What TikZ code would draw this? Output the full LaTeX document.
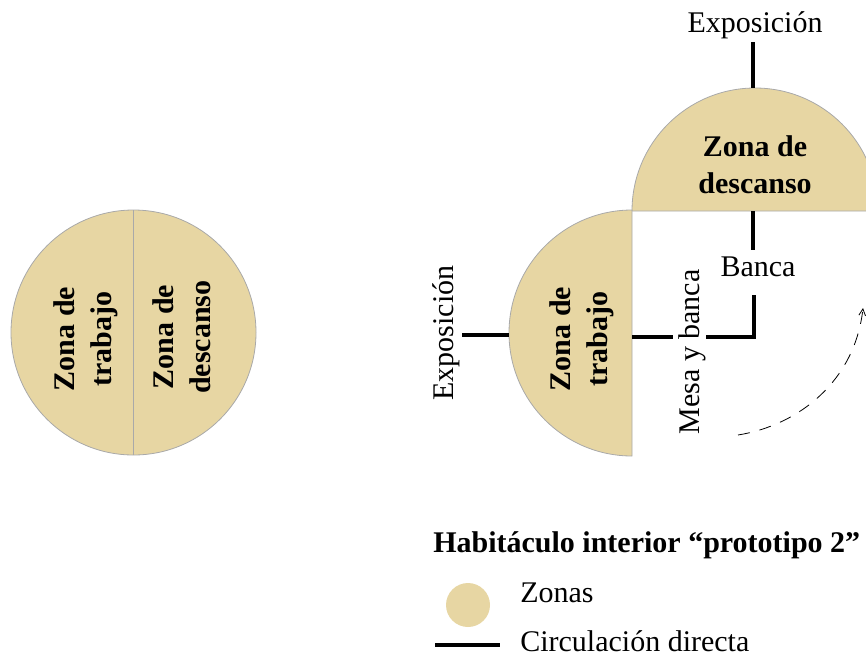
\documentclass[tikz,border=0pt]{standalone}
\usepackage{fontspec}
\setmainfont{Liberation Serif}
\usetikzlibrary{arrows.meta}
\definecolor{zona}{HTML}{E7D6A3}
\definecolor{borde}{HTML}{A9A9A9}
\begin{document}
\begin{tikzpicture}[x=0.75pt,y=-0.75pt,
  zone/.style={fill=zona,draw=borde,line width=0.6pt},
  conn/.style={line width=2.6pt},
  lbl/.style={font=\fontsize{22.5}{27}\selectfont,inner sep=0pt},
  zlbl/.style={font=\fontsize{22.5}{28}\selectfont\bfseries,align=center,inner sep=0pt},
  flow/.style={line width=0.6pt,dash pattern=on 9pt off 7.5pt,-{Straight Barb[length=5pt,width=5pt]}}]
\useasboundingbox (0,0) rectangle (866,657);
\clip (0,0) rectangle (866,657);
% left circle
\draw[zone] (133.5,332.5) circle[radius=122.5];
\draw[borde,line width=0.6pt] (133.5,210) -- (133.5,455);
\node[zlbl,rotate=90] (lt) at (86,339) {Zona de\\trabajo};
\node[zlbl,rotate=90] (ld) at (182,337) {Zona de\\descanso};
% right half disks
\draw[zone] (632,211) arc[start angle=180,end angle=360,radius=123] -- cycle;
\draw[zone] (632,210) arc[start angle=-90,end angle=-270,radius=123] -- cycle;
\node[zlbl,rotate=90] (rt) at (582,339) {Zona de\\trabajo};
\node[zlbl] (rd) at (755,165) {Zona de\\descanso};
% labels
\node[lbl,anchor=base] (expT) at (755,32) {Exposición};
\node[lbl,anchor=base] (banca) at (758,276) {Banca};
\node[lbl,rotate=90,anchor=base] (mesa) at (699,352) {Mesa y banca};
\node[lbl,rotate=90,anchor=base] (expL) at (453,333) {Exposición};
% connector endpoints
\coordinate (expTa) at (753,42);
\coordinate (expTb) at (753,88);
\coordinate (bancaA) at (753,211);
\coordinate (bancaB) at (753,250);
\coordinate (bancaC) at (754,295);
\coordinate (bancaD) at (754,337);
\coordinate (bancaE) at (706,337);
\coordinate (mesaA) at (632,337);
\coordinate (mesaB) at (673,337);
\coordinate (expLa) at (462,335);
\coordinate (expLb) at (509,335);
\draw[conn] (expTa) -- (expTb);
\draw[conn] (bancaA) -- (bancaB);
\draw[conn] (bancaC) -- (bancaD) -- (bancaE);
\draw[conn] (mesaA) -- (mesaB);
\draw[conn] (expLa) -- (expLb);
% dashed flow
\coordinate (fA) at (738,435);
\coordinate (fB) at (863,308);
\draw[flow] (fA) .. controls (800,425) and (855,380) .. (fB);
% legend
\node[font=\fontsize{22.5}{27}\selectfont\bfseries,anchor=base west,inner sep=0pt] (title) at (433,552) {Habitáculo interior “prototipo 2”};
\fill[zona] (468,605) circle[radius=22];
\node[lbl,anchor=base west] (zonas) at (520,602) {Zonas};
\coordinate (legA) at (435,645);
\coordinate (legB) at (500,645);
\draw[conn] (legA) -- (legB);
\node[lbl,anchor=base west] (circ) at (520,651) {Circulación directa};
\end{tikzpicture}
\end{document}
